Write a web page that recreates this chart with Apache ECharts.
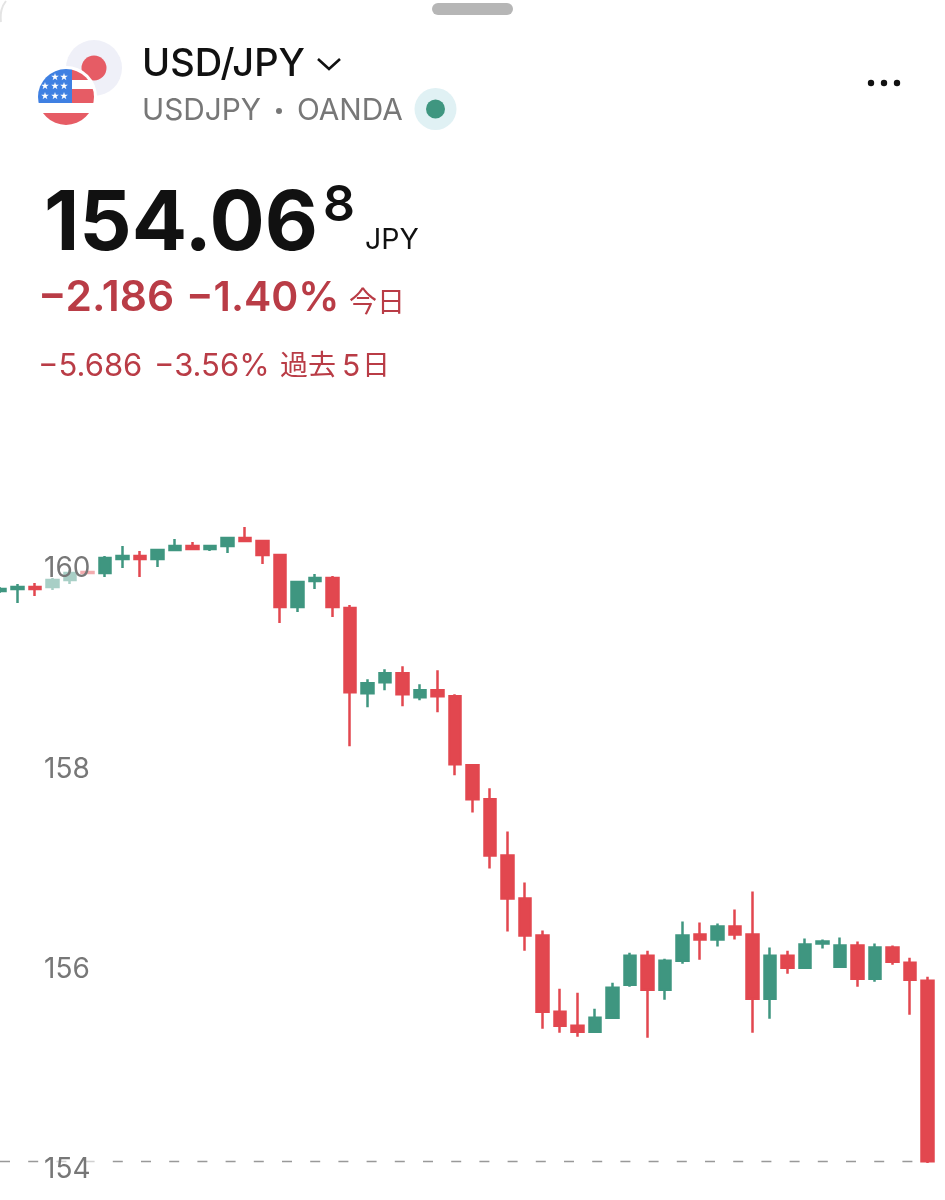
<!DOCTYPE html>
<html>
<head>
<meta charset="utf-8">
<title>USD/JPY</title>
<style>
  html, body { margin: 0; padding: 0; background: #fff; }
  #chart { width: 945px; height: 1200px; }
</style>
<script src="https://cdn.jsdelivr.net/npm/echarts@6/dist/echarts.min.js"></script>
</head>
<body>
<div id="chart"></div>
<script>
// prices, one entry per candle
const opens = [159.76,159.78,159.80,159.80,159.87,159.95,159.94,160.08,160.11,160.08,160.17,160.21,160.18,160.21,160.29,160.26,160.12,159.60,159.86,159.89,159.59,158.74,158.85,158.94,158.70,158.77,158.71,158.02,157.68,157.12,156.69,156.32,155.56,155.42,155.36,155.50,155.83,156.12,155.78,156.07,156.33,156.28,156.41,156.33,155.69,156.12,156.00,156.24,156.01,156.22,155.89,156.20,156.05,155.87]
const closes = [159.78,159.80,159.78,159.87,159.94,159.94,160.09,160.11,160.08,160.17,160.21,160.18,160.21,160.29,160.26,160.12,159.60,159.85,159.89,159.60,158.75,158.84,158.94,158.73,158.77,158.71,158.03,157.68,157.12,156.69,156.32,155.56,155.42,155.36,155.50,155.80,156.12,155.78,156.07,156.32,156.28,156.41,156.33,155.69,156.12,156.00,156.23,156.26,156.22,155.89,156.20,156.06,155.88,154.068]
const lows = [159.74,159.64,159.71,159.77,159.83,159.93,159.90,159.99,159.90,160.00,160.16,160.17,160.16,160.14,160.25,160.03,159.44,159.55,159.78,159.50,158.21,158.60,158.77,158.61,158.67,158.55,157.92,157.55,156.99,156.36,156.17,155.39,155.35,155.31,155.35,155.49,155.81,155.30,155.68,156.04,156.08,156.21,156.28,155.35,155.49,155.94,156.00,156.19,156.00,155.81,155.86,156.03,155.53,154.05]
const highs = [159.80,159.83,159.84,159.89,159.97,159.95,160.11,160.21,160.16,160.18,160.28,160.25,160.21,160.29,160.40,160.27,160.13,159.85,159.93,159.91,159.62,158.88,158.98,159.01,158.83,158.97,158.73,158.03,157.79,157.36,156.85,156.37,155.79,155.75,155.59,155.85,156.15,156.17,156.09,156.46,156.45,156.44,156.58,156.76,156.20,156.17,156.29,156.28,156.30,156.26,156.24,156.22,156.10,155.91]
const lastPrice = 154.068

const categories = opens.map((_, i) => String(i))
const candles = opens.map((o, i) => [o, closes[i], lows[i], highs[i]])

const upColor = '#3f9680'
const downColor = '#e2474f'
const redText = '#b93c46'
const font = 'Inter, "Noto Sans CJK JP", sans-serif'

// flags are just a small svg, the stars would be painful as graphic elements
function star(x, y) {
  const pts = []
  for (let i = 0; i < 10; i++) {
    const r = i % 2 ? 1.6 : 4
    const a = -Math.PI / 2 + i * Math.PI / 5
    pts.push((x + r * Math.cos(a)).toFixed(1) + ',' + (y + r * Math.sin(a)).toFixed(1))
  }
  return `<polygon fill="#fff" points="${pts.join(' ')}"/>`
}
const stars = [[55,77],[64,77],[45,86],[55,86],[64,86],[45,96],[55,96],[64,96]].map(p => star(p[0], p[1])).join('')
const flagSvg = `<svg xmlns="http://www.w3.org/2000/svg" width="130" height="130" viewBox="0 0 130 130">
<defs><clipPath id="c"><circle cx="66" cy="97" r="28"/></clipPath></defs>
<circle cx="94" cy="68" r="28" fill="#eff0f8"/><circle cx="94" cy="68" r="12.5" fill="#e65c65"/>
<circle cx="66" cy="97" r="31" fill="#fff"/>
<g clip-path="url(#c)"><rect x="38" y="69" width="56" height="56" fill="#fff"/>
<rect x="72" y="69" width="22" height="11" fill="#e65c65"/>
<rect x="72" y="89" width="22" height="14" fill="#e65c65"/>
<rect x="38" y="113" width="56" height="12" fill="#e65c65"/>
<rect x="38" y="69" width="34" height="34" fill="#3f80e2"/>${stars}</g></svg>`

function label(text, x, y, size, fill, weight) {
  return {
    type: 'text',
    z: 20,
    style: { text, x, y, fill, verticalAlign: 'middle', font: `${weight || 400} ${size}px ${font}` }
  }
}

const chart = echarts.init(document.getElementById('chart'), null, { renderer: 'canvas' })
chart.setOption({
  backgroundColor: '#fff',
  animation: false,
  // outerBounds off, otherwise v6 squeezes the grid to keep the label boxes on the canvas
  grid: { left: 0, width: 927.5, top: 466.8, height: 701.2, outerBoundsMode: 'none' },
  xAxis: {
    type: 'category',
    data: categories,
    boundaryGap: false,
    show: false
  },
  yAxis: {
    type: 'value',
    min: 154,
    max: 161,
    interval: 2,
    z: 10,
    splitLine: { show: false },
    axisLine: { show: false },
    axisTick: { show: false },
    axisLabel: {
      inside: true,
      margin: 43,
      showMaxLabel: false,
      formatter: '{a|{value}}',
      rich: {
        a: { color: '#777', fontFamily: font, fontSize: 28, padding: [4, 0, 0, 0] }
      },
      backgroundColor: 'rgba(255,255,255,0.55)',
      padding: [20, 6, 20, 1]
    }
  },
  series: [{
    type: 'candlestick',
    data: candles,
    clip: false,
    barWidth: 12,
    itemStyle: {
      color: upColor,
      color0: downColor,
      borderColor: upColor,
      borderColor0: downColor,
      borderWidth: 2.5
    },
    markLine: {
      silent: true,
      symbol: 'none',
      label: { show: false },
      lineStyle: { color: '#999', type: [10, 18.2], width: 1.3 },
      data: [[{ coord: ['0', lastPrice] }, { coord: [categories[categories.length - 1], lastPrice] }]]
    }
  }],
  graphic: [
    { type: 'polyline', shape: { points: [[1, 22], [1.5, 10], [6, 1]], smooth: 0.5 }, style: { stroke: '#e4e4e4', lineWidth: 2, fill: null } },
    { type: 'rect', shape: { x: 432, y: 3, width: 81, height: 12, r: 6 }, style: { fill: '#b6b6b6' } },
    { type: 'image', style: { image: 'data:image/svg+xml;charset=utf-8,' + encodeURIComponent(flagSvg), x: 0, y: 0, width: 130, height: 130 } },
    label('USD/JPY', 142, 65, 38, '#111', 500),
    { type: 'polyline', shape: { points: [[318, 59], [329, 69], [340, 59]] }, style: { stroke: '#111', lineWidth: 2.6, fill: null } },
    label('USDJPY', 142, 111, 29.8, '#777'),
    { type: 'circle', shape: { cx: 279, cy: 111, r: 3 }, style: { fill: '#777' } },
    label('OANDA', 297, 111, 29.8, '#777'),
    { type: 'circle', shape: { cx: 435.5, cy: 109, r: 21 }, style: { fill: '#e0f1f4' } },
    { type: 'circle', shape: { cx: 435.5, cy: 109, r: 9.5 }, style: { fill: upColor } },
    { type: 'circle', shape: { cx: 871, cy: 83, r: 3.2 }, style: { fill: '#111' } },
    { type: 'circle', shape: { cx: 884, cy: 83, r: 3.2 }, style: { fill: '#111' } },
    { type: 'circle', shape: { cx: 897, cy: 83, r: 3.2 }, style: { fill: '#111' } },
    label('154.06', 44, 225.5, 82, '#111', 700),
    label('8', 323, 206, 50, '#111', 600),
    label('JPY', 365, 240, 28.5, '#111'),
    label('−2.186', 38, 298.5, 42.5, redText, 600),
    label('−1.40%', 186, 298.5, 41, redText, 600),
    label('今日', 349, 304, 28, redText),
    label('−5.686', 38, 367, 31, redText),
    label('−3.56%', 154, 367, 31, redText),
    label('過去', 280, 367, 28, redText),
    label('5', 342, 367, 30, redText),
    label('日', 362, 367, 28, redText)
  ]
})
</script>
</body>
</html>
